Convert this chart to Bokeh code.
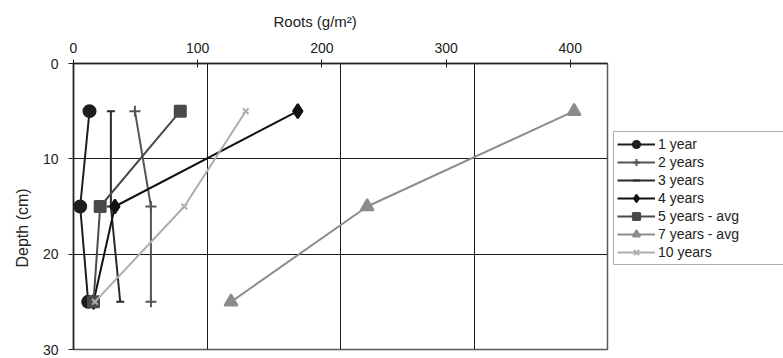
from bokeh.plotting import figure
from bokeh.layouts import row
from bokeh.models import (Range1d, LinearAxis, FixedTicker, Grid, Legend, LegendItem, Title)
from bokeh.embed import file_html
from bokeh.resources import INLINE

# Root biomass (g/m^2) by soil depth (cm) for stands of different age
depths = [5, 15, 25]
series_names = ["1 year", "2 years", "3 years", "4 years", "5 years - avg", "7 years - avg", "10 years"]
roots_1y = [12, 5, 11]
roots_2y = [46, 58, 58]
roots_3y = [28, 28, 35]
roots_4y = [168, 31, 15]
roots_5y = [80, 20, 15]
roots_7y = [375, 220, 118]
roots_10y = [129, 83, 16]
x_ticks = [0, 100, 200, 300, 400]
y_ticks = [0, 10, 20, 30]

FONT = "Liberation Sans"
TXT = "#222222"

p = figure(width=609, height=358, output_backend="svg", toolbar_location=None,
           x_range=Range1d(0, 400), y_range=Range1d(30, 0),
           x_axis_location=None, y_axis_location=None,
           min_border_left=73, min_border_right=2, min_border_top=63, min_border_bottom=9)
p.xgrid.visible = False
p.ygrid.visible = False
p.background_fill_color = "white"
p.border_fill_color = "white"
p.outline_line_color = "#5a5a5a"
p.outline_line_width = 1.5

# gridlines
p.add_layout(Grid(dimension=0, ticker=FixedTicker(ticks=[100, 200, 300]),
                  grid_line_color="#1a1a1a", grid_line_width=1))
p.add_layout(Grid(dimension=1, ticker=FixedTicker(ticks=[10, 20]),
                  grid_line_color="#1a1a1a", grid_line_width=1))

# labelled root axis along the top
p.extra_x_ranges = {"roots": Range1d(0, 430)}
top = LinearAxis(x_range_name="roots", ticker=FixedTicker(ticks=x_ticks))
top.major_tick_in = 4
top.major_tick_out = 4
top.minor_tick_line_color = None
top.axis_line_color = "#222222"
top.axis_line_width = 1.5
top.major_tick_line_color = "#222222"
top.major_label_standoff = 7
top.major_label_text_font = FONT
top.major_label_text_font_size = "14px"
top.major_label_text_color = TXT
p.add_layout(top, "above")

left = LinearAxis(ticker=FixedTicker(ticks=y_ticks))
left.major_tick_in = 0
left.major_tick_out = 5
left.minor_tick_line_color = None
left.axis_line_color = "#222222"
left.axis_line_width = 1.5
left.major_tick_line_color = "#222222"
left.major_label_standoff = 10
left.major_label_text_font = FONT
left.major_label_text_font_size = "14px"
left.major_label_text_color = TXT
p.add_layout(left, "left")

# axis titles
p.add_layout(Title(text="Roots (g/m²)", align="left", offset=200, standoff=20,
                   text_font=FONT, text_font_size="15px", text_font_style="normal",
                   text_color=TXT), "above")
p.add_layout(Title(text="Depth (cm)", align="left", offset=82, standoff=18,
                   text_font=FONT, text_font_size="16px", text_font_style="normal",
                   text_color=TXT), "left")

styles = [
    (roots_1y, "#1e1e1e", "circle", 12),
    (roots_2y, "#555555", "cross", 11),
    (roots_3y, "#2a2a2a", "dash", 8),
    (roots_4y, "#111111", "diamond", 14),
    (roots_5y, "#4a4a4a", "square", 11),
    (roots_7y, "#8c8c8c", "triangle", 13),
    (roots_10y, "#adadad", "x", 8),
]

for vals, color, marker, size in styles:
    p.line(vals, depths, line_color=color, line_width=2)
    p.scatter(vals, depths, marker=marker, size=size,
              fill_color=color, line_color=color, line_width=2)

# legend panel to the right of the plot area; its renderers sit outside
# this panel's visible ranges so only the legend keys show
lg = figure(width=174, height=358, output_backend="svg", toolbar_location=None,
            x_range=Range1d(-2, -1), y_range=Range1d(-2, -1),
            x_axis_location=None, y_axis_location=None,
            min_border=0, outline_line_color=None)
lg.xgrid.visible = False
lg.ygrid.visible = False
items = []
for name, (vals, color, marker, size) in zip(series_names, styles):
    ln = lg.line(vals, depths, line_color=color, line_width=2)
    mk = lg.scatter(vals, depths, marker=marker, size=size,
                    fill_color=color, line_color=color, line_width=2)
    items.append(LegendItem(label=name, renderers=[ln, mk]))

legend = Legend(items=items, location=(4, 84), margin=0, padding=3, spacing=0,
                glyph_width=38, glyph_height=18, label_height=18, label_width=150,
                label_standoff=3,
                label_text_font=FONT, label_text_font_size="14px", label_text_color=TXT,
                border_line_color="#5a5a5a", border_line_width=1.5,
                background_fill_color="white", background_fill_alpha=1)
lg.add_layout(legend)

open("out.html", "w").write(file_html(row(p, lg), INLINE))
